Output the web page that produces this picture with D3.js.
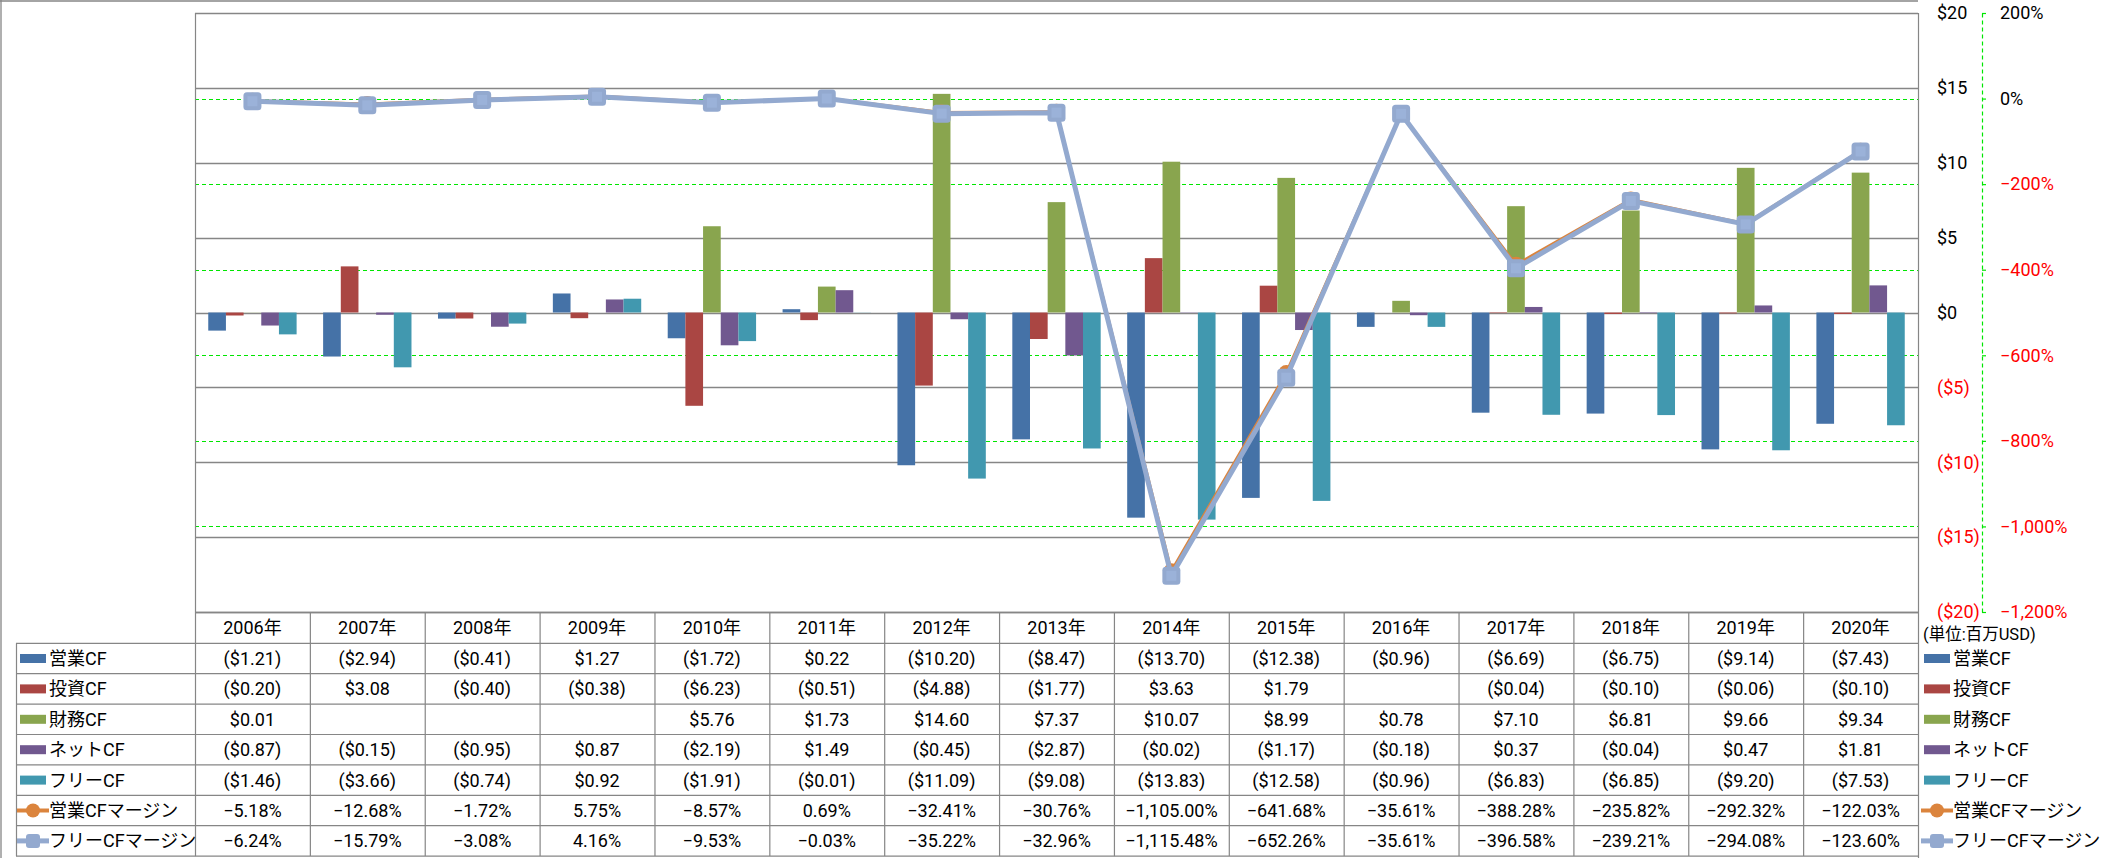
<!DOCTYPE html>
<html><head><meta charset="utf-8">
<script src="https://cdn.jsdelivr.net/npm/d3@7"></script>
<style>
body{margin:0;background:#fff}
svg{display:block}
text{font-family:Roboto,"Noto Sans CJK JP",sans-serif;}
</style>
</head><body>
<svg id="c" width="2101" height="858"></svg>
<script>
// ---- data ----
const years = ["2006年","2007年","2008年","2009年","2010年","2011年","2012年","2013年","2014年","2015年","2016年","2017年","2018年","2019年","2020年"];
const barSeries = ["営業CF","投資CF","財務CF","ネットCF","フリーCF"];
const lineSeries = ["営業CFマージン","フリーCFマージン"];
const operatingCF = [-1.21,-2.94,-0.41,1.27,-1.72,0.22,-10.20,-8.47,-13.70,-12.38,-0.96,-6.69,-6.75,-9.14,-7.43];
const investingCF = [-0.20,3.08,-0.40,-0.38,-6.23,-0.51,-4.88,-1.77,3.63,1.79,null,-0.04,-0.10,-0.06,-0.10];
const financingCF = [0.01,null,null,null,5.76,1.73,14.60,7.37,10.07,8.99,0.78,7.10,6.81,9.66,9.34];
const netCF = [-0.87,-0.15,-0.95,0.87,-2.19,1.49,-0.45,-2.87,-0.02,-1.17,-0.18,0.37,-0.04,0.47,1.81];
const freeCF = [-1.46,-3.66,-0.74,0.92,-1.91,-0.01,-11.09,-9.08,-13.83,-12.58,-0.96,-6.83,-6.85,-9.20,-7.53];
const operatingMargin = [-5.18,-12.68,-1.72,5.75,-8.57,0.69,-32.41,-30.76,-1105.00,-641.68,-35.61,-388.28,-235.82,-292.32,-122.03];
const freeMargin = [-6.24,-15.79,-3.08,4.16,-9.53,-0.03,-35.22,-32.96,-1115.48,-652.26,-35.61,-396.58,-239.21,-294.08,-123.60];
const leftTicks = [20,15,10,5,0,-5,-10,-15,-20];
const rightTicks = [200,0,-200,-400,-600,-800,-1000,-1200];
const unitLabel = "(単位:百万USD)";

// ---- styles ----
const barColors = ["#4572A7","#AA4643","#89A54E","#71588F","#4198AF"];
const lineColors = ["#DB843D","#93A9CF"];
const barValues = [operatingCF, investingCF, financingCF, netCF, freeCF];
const lineValues = [operatingMargin, freeMargin];

const W = 2101, H = 858;
const plotL = 195, plotR = 1918, plotT = 13, plotB = 612;
const headerTop = 612, bodyTop = 643.3, rowH = 30.4;
const fs = 18;

const svg = d3.select("#c");

const x = d3.scaleBand().domain(years).range([plotL, plotR]).padding(0);
const xs = d3.scaleBand().domain(barSeries).range([0, x.bandwidth()]).paddingInner(0).paddingOuter(0.75);
const yL = d3.scaleLinear().domain([-20, 20]).range([plotB, plotT]);
const yR = d3.scaleLinear().domain([-1200, 200]).range([plotB, plotT]);

// outer border
svg.append("line").attr("x1",1).attr("x2",1).attr("y1",0).attr("y2",H).attr("stroke","#868686").attr("stroke-width",1.3);
svg.append("line").attr("x1",0).attr("x2",plotR).attr("y1",1).attr("y2",1).attr("stroke","#868686").attr("stroke-width",1.3);

// green dashed gridlines (secondary axis)
svg.append("g").selectAll("line").data(rightTicks).join("line")
  .attr("x1", plotL).attr("x2", plotR)
  .attr("y1", d => Math.round(yR(d)) + 0.5).attr("y2", d => Math.round(yR(d)) + 0.5)
  .attr("stroke", "#00e600").attr("stroke-width", 1.2).attr("stroke-dasharray", "4,3");

// gray gridlines
svg.append("g").selectAll("line").data(leftTicks).join("line")
  .attr("x1", plotL).attr("x2", plotR)
  .attr("y1", d => Math.round(yL(d)) + 0.5).attr("y2", d => Math.round(yL(d)) + 0.5)
  .attr("stroke", "#868686").attr("stroke-width", 1.3);

// plot border (left/right)
svg.append("line").attr("x1", plotL+0.5).attr("x2", plotL+0.5).attr("y1", plotT).attr("y2", plotB).attr("stroke","#868686").attr("stroke-width",1.2);
svg.append("line").attr("x1", plotR+0.5).attr("x2", plotR+0.5).attr("y1", plotT).attr("y2", H).attr("stroke","#868686").attr("stroke-width",1.2);

// bars
barSeries.forEach((s, si) => {
  const data = years.map((yv, i) => ({year: yv, v: barValues[si][i]})).filter(d => d.v !== null);
  svg.append("g").selectAll("rect").data(data).join("rect")
    .attr("x", d => x(d.year) + xs(s))
    .attr("width", xs.bandwidth())
    .attr("y", d => Math.min(yL(d.v), yL(0)))
    .attr("height", d => Math.abs(yL(d.v) - yL(0)))
    .attr("fill", barColors[si]);
});

// lines
const cx = yv => x(yv) + x.bandwidth() / 2;
lineSeries.forEach((s, li) => {
  const data = years.map((yv, i) => ({year: yv, v: lineValues[li][i]}));
  const line = d3.line().x(d => cx(d.year)).y(d => yR(d.v));
  const g = svg.append("g");
  g.append("path").datum(data).attr("d", line).attr("fill", "none")
    .attr("stroke", lineColors[li]).attr("stroke-width", li === 0 ? 3 : 5).attr("stroke-linejoin", "round");
  if (li === 0) {
    g.selectAll("circle").data(data).join("circle")
      .attr("cx", d => cx(d.year)).attr("cy", d => yR(d.v)).attr("r", 8)
      .attr("fill", lineColors[li]);
  } else {
    g.selectAll("rect").data(data).join("rect")
      .attr("x", d => cx(d.year) - 9).attr("y", d => yR(d.v) - 9)
      .attr("width", 18).attr("height", 18).attr("rx", 3.5)
      .attr("fill", lineColors[li]);
    g.selectAll("rect.in").data(data).join("rect").attr("class","in")
      .attr("x", d => cx(d.year) - 5).attr("y", d => yR(d.v) - 5)
      .attr("width", 10).attr("height", 10)
      .attr("fill", "#9bb2d9");
  }
});

// primary value axis (labels right of plot)
const moneyFmt = v => v < 0 ? "($" + Math.abs(v) + ")" : "$" + v;
const axL = svg.append("g").attr("transform", `translate(${plotR},0)`)
  .call(d3.axisRight(yL).tickValues(leftTicks).tickFormat(moneyFmt).tickSizeInner(0).tickSizeOuter(0).tickPadding(19));
axL.select(".domain").remove();
axL.selectAll("text").attr("font-family", null).attr("font-size", fs)
  .attr("fill", d => d < 0 ? "#ff0000" : "#000");

// secondary axis
const pctFmt = v => d3.format(",")(v) + "%";
const axR = svg.append("g").attr("transform", `translate(1982,0)`)
  .call(d3.axisRight(yR).tickValues(rightTicks).tickFormat(pctFmt).tickSizeInner(4).tickSizeOuter(0).tickPadding(14));
axR.select(".domain").attr("stroke", "#00e600").attr("stroke-dasharray", "4,3").attr("stroke-width", 1.2);
axR.selectAll(".tick line").attr("stroke", "#00e600").attr("stroke-width", 1.2);
axR.selectAll("text").attr("font-family", null).attr("font-size", fs)
  .attr("fill", d => d < 0 ? "#ff0000" : "#000");

// ---- data table ----
const tableLineColor = "#868686";
const tg = svg.append("g");
tg.append("line").attr("x1", plotL).attr("x2", plotR).attr("y1", headerTop+0.5).attr("y2", headerTop+0.5).attr("stroke", tableLineColor).attr("stroke-width",1.3);
const nRows = 7;
for (let r = 0; r <= nRows; r++) {
  const yy = bodyTop + r * rowH;
  tg.append("line").attr("x1", 16).attr("x2", plotR).attr("y1", yy).attr("y2", yy).attr("stroke", tableLineColor).attr("stroke-width",1.2);
}
tg.append("line").attr("x1", 16.5).attr("x2", 16.5).attr("y1", bodyTop).attr("y2", bodyTop + nRows*rowH).attr("stroke", tableLineColor).attr("stroke-width",1.2);
years.forEach(yv => {
  tg.append("line").attr("x1", x(yv)+0.5).attr("x2", x(yv)+0.5).attr("y1", headerTop).attr("y2", bodyTop + nRows*rowH).attr("stroke", tableLineColor).attr("stroke-width",1.2);
});
tg.selectAll("text.h").data(years).join("text").attr("class","h")
  .attr("x", d => cx(d)).attr("y", (headerTop + bodyTop)/2).attr("dy","0.36em")
  .attr("text-anchor","middle").attr("font-size", fs).text(d => d);

const moneyCell = v => v === null ? "" : (v < 0 ? "($" + Math.abs(v).toFixed(2) + ")" : "$" + v.toFixed(2));
const pctCell = v => d3.format(",.2f")(v) + "%";
const rowsData = [
  ...barSeries.map((s, i) => ({name: s, vals: barValues[i].map(moneyCell), type: "bar", color: barColors[i]})),
  ...lineSeries.map((s, i) => ({name: s, vals: lineValues[i].map(pctCell), type: i === 0 ? "circle" : "square", color: lineColors[i]}))
];
function legendKey(g, type, color, x0, cy) {
  if (type === "bar") {
    g.append("rect").attr("x", x0).attr("y", cy - 4.5).attr("width", 26).attr("height", 9).attr("fill", color);
  } else {
    g.append("line").attr("x1", x0 - 3).attr("x2", x0 + 29).attr("y1", cy).attr("y2", cy)
      .attr("stroke", color).attr("stroke-width", type === "circle" ? 4 : 5);
    if (type === "circle") {
      g.append("circle").attr("cx", x0 + 13).attr("cy", cy).attr("r", 7).attr("fill", color);
    } else {
      g.append("rect").attr("x", x0 + 6).attr("y", cy - 7).attr("width", 14).attr("height", 14).attr("rx", 3).attr("fill", color);
    }
  }
}
rowsData.forEach((row, r) => {
  const cy = bodyTop + r * rowH + rowH / 2;
  legendKey(tg, row.type, row.color, 20, cy);
  tg.append("text").attr("x", 49).attr("y", cy).attr("dy", "0.36em").attr("font-size", fs).text(row.name);
  row.vals.forEach((t, i) => {
    tg.append("text").attr("x", cx(years[i])).attr("y", cy).attr("dy", "0.36em")
      .attr("text-anchor", "middle").attr("font-size", fs).text(t);
  });
  legendKey(tg, row.type, row.color, 1924, cy);
  tg.append("text").attr("x", 1953).attr("y", cy).attr("dy", "0.36em").attr("font-size", fs).text(row.name);
});
tg.append("text").attr("x", 1923).attr("y", 634).attr("dy", "0.36em").attr("font-size", 16.5).text(unitLabel);
</script>
</body></html>
